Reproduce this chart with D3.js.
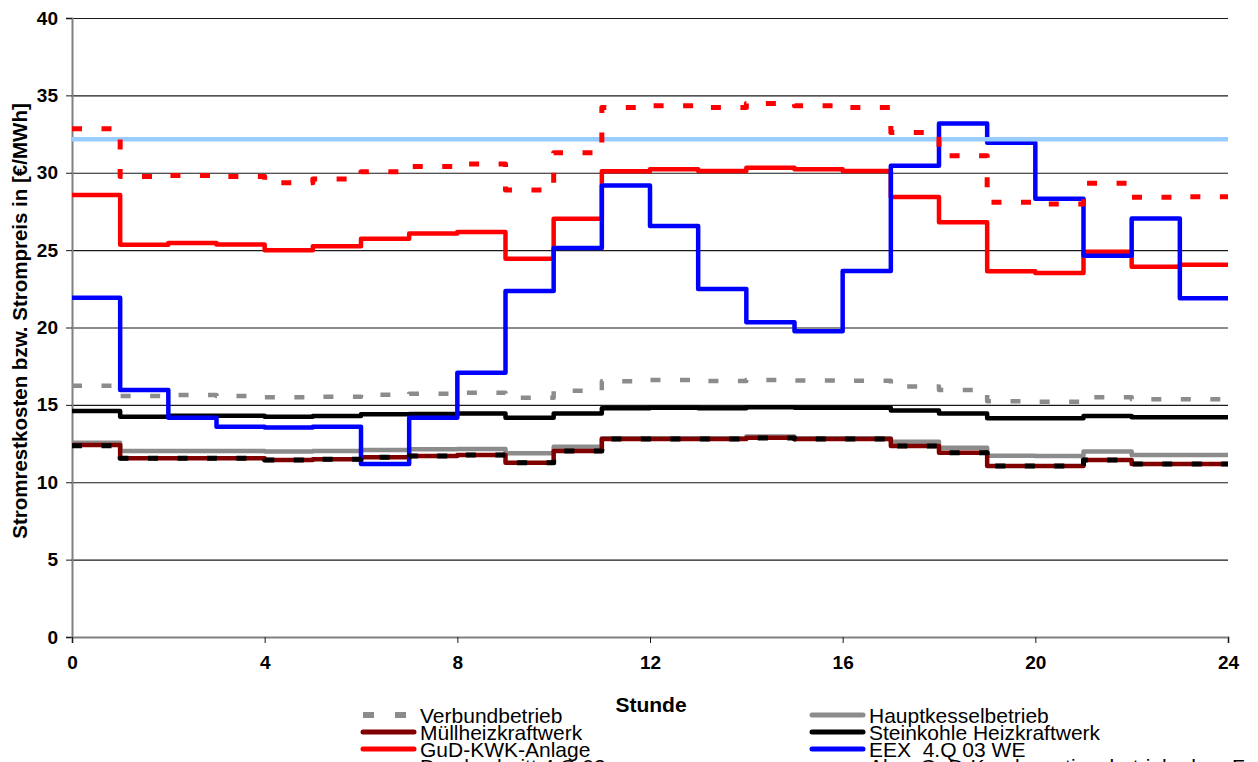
<!DOCTYPE html>
<html>
<head>
<meta charset="utf-8">
<script src="https://cdn.jsdelivr.net/npm/d3@7"></script>
<style>
  html, body { margin: 0; padding: 0; background: #fff; overflow: hidden; }
  svg { display: block; font-family: Arial, "Liberation Sans", sans-serif; }
  .legend text { white-space: pre; }
</style>
</head>
<body>
<svg id="chart" width="1258" height="762"></svg>
<script>
// Hours of the day (each value holds from hour h to h+1)
const hours = d3.range(0, 24);
const xTicks = [0, 4, 8, 12, 16, 20, 24];
const yTicks = [0, 5, 10, 15, 20, 25, 30, 35, 40];

// Stromrestkosten / Strompreis in €/MWh, one value per hour
const verbundbetrieb = [16.24, 15.57, 15.64, 15.57, 15.50, 15.53, 15.66, 15.72, 15.79, 15.46, 15.92, 16.53,
                        16.61, 16.54, 16.61, 16.58, 16.56, 16.18, 15.96, 15.23, 15.21, 15.49, 15.36, 15.36];
const hauptkessel    = [12.56, 12.02, 12.02, 12.02, 11.98, 12.02, 12.08, 12.13, 12.15, 11.87, 12.30, 12.84,
                        12.84, 12.84, 12.95, 12.84, 12.84, 12.62, 12.23, 11.72, 11.70, 11.98, 11.76, 11.76];
const muell          = [12.41, 11.55, 11.55, 11.55, 11.44, 11.48, 11.61, 11.70, 11.76, 11.26, 12.02, 12.79,
                        12.79, 12.79, 12.88, 12.79, 12.79, 12.34, 11.91, 11.05, 11.05, 11.44, 11.18, 11.18];
const steinkohle     = [14.60, 14.24, 14.30, 14.30, 14.24, 14.28, 14.39, 14.41, 14.45, 14.17, 14.45, 14.78,
                        14.82, 14.78, 14.84, 14.82, 14.82, 14.63, 14.45, 14.13, 14.13, 14.28, 14.20, 14.20];
const gud            = [28.56, 25.35, 25.46, 25.37, 24.99, 25.25, 25.74, 26.08, 26.17, 24.45, 27.03, 30.09,
                        30.22, 30.11, 30.33, 30.22, 30.11, 28.43, 26.80, 23.63, 23.52, 24.90, 23.93, 24.06];
const eex            = [21.93, 15.96, 14.17, 13.59, 13.53, 13.59, 11.18, 14.17, 17.08, 22.36, 25.14, 29.17,
                        26.56, 22.49, 20.34, 19.75, 23.65, 30.46, 33.19, 31.94, 28.32, 24.64, 27.05, 21.89];
const durchschnitt   = [32.16, 32.16, 32.16, 32.16, 32.16, 32.16, 32.16, 32.16, 32.16, 32.16, 32.16, 32.16,
                        32.16, 32.16, 32.16, 32.16, 32.16, 32.16, 32.16, 32.16, 32.16, 32.16, 32.16, 32.16];
const gudKondensation = [32.85, 29.75, 29.82, 29.75, 29.36, 29.60, 30.07, 30.40, 30.57, 28.88, 31.30, 34.22,
                         34.33, 34.22, 34.48, 34.33, 34.22, 32.60, 31.10, 28.09, 27.98, 29.32, 28.41, 28.45];
const muellKessel    = [12.36, 11.55, 11.55, 11.55, 11.44, 11.48, 11.61, 11.70, 11.76, 11.26, 12.02, 12.79,
                        12.79, 12.79, 12.86, 12.79, 12.79, 12.34, 11.91, 11.05, 11.05, 11.44, 11.18, 11.18];

// Series in drawing order (later ones lie on top), with legend text
const series = [
  { name: "Verbundbetrieb",            values: verbundbetrieb,  color: "#8c8c8c", width: 4.5, dash: "10,19.5" },
  { name: "Hauptkesselbetrieb",        values: hauptkessel,     color: "#8c8c8c", width: 4.5 },
  { name: "Müllheizkraftwerk",         values: muell,           color: "#800000", width: 4.5 },
  { name: "Steinkohle Heizkraftwerk",  values: steinkohle,      color: "#000000", width: 4.5 },
  { name: "GuD-KWK-Anlage",            values: gud,             color: "#ff0000", width: 4.5 },
  { name: "EEX  4.Q 03 WE",            values: eex,             color: "#0000ff", width: 4.5 },
  { name: "Durchschnitt 4.Q 03",       values: durchschnitt,    color: "#99ccff", width: 4.5 },
  { name: "Abw. GuD-Kondensationsbetrieb ohne Fernwärme", values: gudKondensation, color: "#ff0000", width: 5, dash: "10,19.5" },
  { name: "Müllheizkraftwerk mit Spitzenkessel", values: muellKessel, color: "#000000", width: 5, dash: "10,19.5" }
];

const svg = d3.select("#chart");
const plotLeft = 72, plotRight = 1228, plotTop = 18, plotBottom = 637;

const x = d3.scaleLinear().domain([0, 24]).range([plotLeft, plotRight]);
const y = d3.scaleLinear().domain([0, 40]).range([plotBottom, plotTop]);

// Horizontal grid lines
svg.append("g")
  .attr("transform", `translate(${plotLeft},0)`)
  .call(d3.axisLeft(y).tickValues(yTicks.filter(v => v > 0)).tickSize(-(plotRight - plotLeft)).tickFormat(""))
  .call(g => g.select(".domain").remove())
  .call(g => g.selectAll("line").attr("stroke", "#1a1a1a").attr("stroke-width", 1.2));

// Y axis
svg.append("g")
  .attr("transform", `translate(${plotLeft},0)`)
  .call(d3.axisLeft(y).tickValues(yTicks).tickSize(6).tickPadding(8))
  .call(g => g.select(".domain").attr("stroke", "#808080").attr("stroke-width", 2))
  .call(g => g.selectAll(".tick line").attr("stroke", "#1a1a1a"))
  .call(g => g.selectAll("text")
    .attr("font-size", "19px").attr("font-weight", "bold").attr("fill", "#000")
    .attr("font-family", "Arial, 'Liberation Sans', sans-serif"));

// X axis
svg.append("g")
  .attr("transform", `translate(0,${plotBottom})`)
  .call(d3.axisBottom(x).tickValues(xTicks).tickSize(6).tickPadding(13))
  .call(g => g.select(".domain").attr("stroke", "#808080").attr("stroke-width", 2))
  .call(g => g.selectAll(".tick line").attr("stroke", "#1a1a1a"))
  .call(g => g.selectAll("text")
    .attr("font-size", "19px").attr("font-weight", "bold").attr("fill", "#000")
    .attr("font-family", "Arial, 'Liberation Sans', sans-serif"));

// Axis titles
svg.append("text")
  .attr("x", 651).attr("y", 712)
  .attr("text-anchor", "middle")
  .attr("font-size", "21px").attr("font-weight", "bold")
  .text("Stunde");

svg.append("text")
  .attr("transform", `translate(27,321) rotate(-90)`)
  .attr("text-anchor", "middle")
  .attr("font-size", "20.5px").attr("font-weight", "bold")
  .text("Stromrestkosten bzw. Strompreis in [€/MWh]");

// Step lines: value of hour h holds until h+1
const line = d3.line()
  .x(d => x(d[0]))
  .y(d => y(d[1]))
  .curve(d3.curveStepAfter);

const stepPoints = vals => hours.map(h => [h, vals[h]]).concat([[24, vals[vals.length - 1]]]);

svg.append("g")
  .selectAll("path")
  .data(series)
  .join("path")
  .attr("d", s => line(stepPoints(s.values)))
  .attr("fill", "none")
  .attr("stroke", s => s.color)
  .attr("stroke-width", s => s.width)
  .attr("stroke-dasharray", s => s.dash || null)
  .attr("stroke-linejoin", "round");

// Legend: two columns, tightly packed rows of 17px
const legend = svg.append("g").attr("class", "legend");
const colX = [363, 812];
const rowY0 = 715, rowH = 17;
series.forEach((s, i) => {
  const cx = colX[i % 2];
  const cy = rowY0 + Math.floor(i / 2) * rowH;
  const g = legend.append("g");
  g.append("line")
    .attr("x1", cx).attr("x2", cx + 51)
    .attr("y1", cy).attr("y2", cy)
    .attr("stroke", s.color)
    .attr("stroke-width", s.dash ? 6 : 5)
    .attr("stroke-linecap", s.dash ? "butt" : "round")
    .attr("stroke-dasharray", s.dash ? "11,21" : null);
  g.append("text")
    .attr("x", cx + 57).attr("y", cy + 7.5)
    .attr("font-size", "21px")
    .text(s.name);
});
</script>
</body>
</html>
